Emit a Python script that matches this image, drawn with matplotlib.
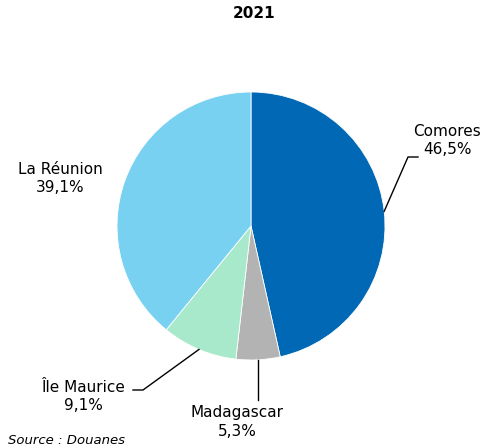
import matplotlib
matplotlib.use("Agg")
import matplotlib.pyplot as plt
import numpy as np

# Share of the total by origin, 2021
categories = ["Comores", "Madagascar", "Île Maurice", "La Réunion"]
values = [46.5, 5.3, 9.1, 39.1]
pct_labels = ["46,5%", "5,3%", "9,1%", "39,1%"]
colors = ["#0068B4", "#B3B3B3", "#A9E9CB", "#78D1F0"]

W, H = 488, 447
fig = plt.figure(figsize=(W / 100, H / 100), dpi=100)
ax = fig.add_axes([0, 0, 1, 1])
ax.set_xlim(0, W)
ax.set_ylim(0, H)
ax.axis("off")

cx, cy, r = 251, H - 226, 134
ax.pie(values, colors=colors, startangle=90, counterclock=False,
       center=(cx, cy), radius=r, frame=True,
       wedgeprops=dict(edgecolor="white", linewidth=0.6))
ax.set_xlim(0, W)
ax.set_ylim(0, H)
ax.set_aspect("equal")
ax.axis("off")

# Midpoint of each wedge on the rim
cum = np.cumsum(values) - np.array(values) / 2
ang = np.deg2rad(90 - cum / sum(values) * 360)
rim = [(cx + r * np.cos(a), cy + r * np.sin(a)) for a in ang]

fs = 11
lc = "black"
lw = 1.0

# Comores
x0, y0 = rim[0]
ax.plot([x0, 408, 418], [y0, H - 157, H - 157], color=lc, lw=lw)
ax.text(447, H - 141, f"{categories[0]}\n{pct_labels[0]}", ha="center", va="center",
        fontsize=fs, linespacing=1.25)

# Madagascar
x1, y1 = rim[1]
ax.plot([x1, x1], [y1, H - 400], color=lc, lw=lw)
ax.text(237, H - 422, f"{categories[1]}\n{pct_labels[1]}", ha="center", va="center",
        fontsize=fs, linespacing=1.25)

# Île Maurice
x2, y2 = rim[2]
ax.plot([x2, 143, 133], [y2, H - 390, H - 390], color=lc, lw=lw)
ax.text(83, H - 396, f"{categories[2]}\n{pct_labels[2]}", ha="center", va="center",
        fontsize=fs, linespacing=1.25)

# La Réunion
ax.text(60, H - 178, f"{categories[3]}\n{pct_labels[3]}", ha="center", va="center",
        fontsize=fs, linespacing=1.25)

ax.text(254, H - 14, "2021", ha="center", va="center", fontsize=11, fontweight="bold")
ax.text(8, H - 440, "Source : Douanes", ha="left", va="center", fontsize=9.5,
        style="italic")

fig.savefig("out.png", dpi=100)
